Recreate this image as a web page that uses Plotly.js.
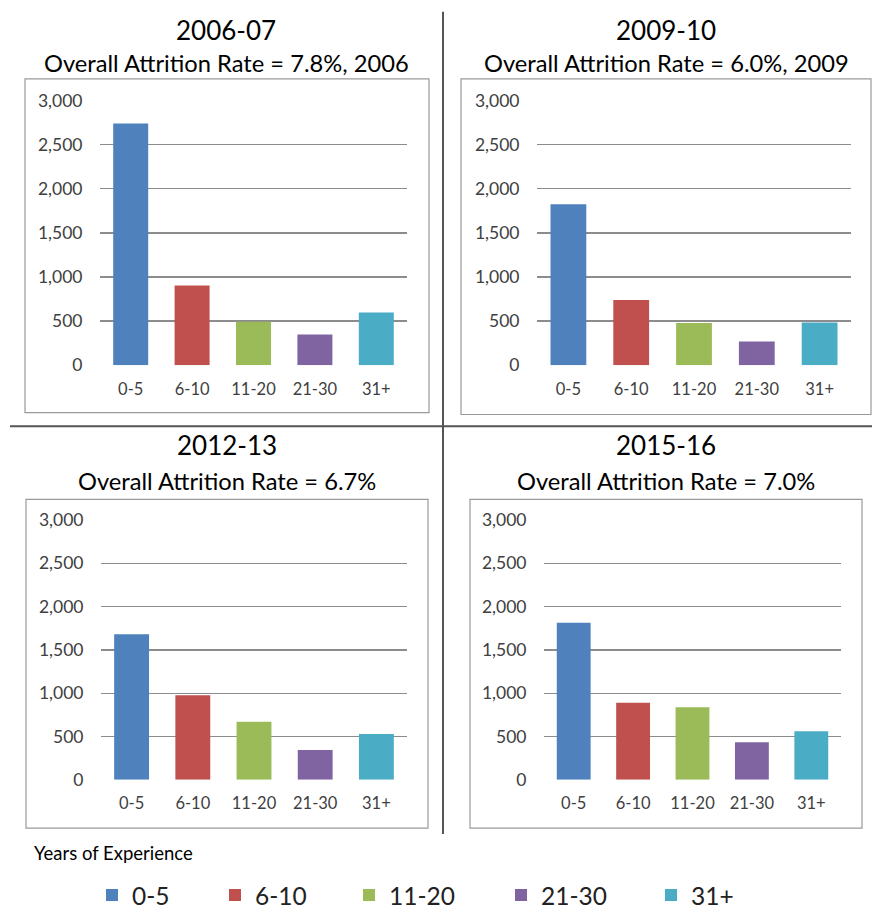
<!DOCTYPE html>
<html>
<head>
<meta charset="utf-8">
<script src="https://cdn.plot.ly/plotly-3.0.1.min.js"></script>
<style>html,body{margin:0;padding:0;background:#fff;}#chart{width:872px;height:918px;}</style>
</head>
<body>
<div id="chart"></div>
<script>
// ---- data ----
const categories = ["0-5", "6-10", "11-20", "21-30", "31+"];
const colors = ["#4F81BD", "#C0504D", "#9BBB59", "#8064A2", "#4BACC6"];
const panelYears = ["2006-07", "2009-10", "2012-13", "2015-16"];
const panelSubtitles = [
  "Overall Attrition Rate = 7.8%, 2006",
  "Overall Attrition Rate = 6.0%, 2009",
  "Overall Attrition Rate = 6.7%",
  "Overall Attrition Rate = 7.0%"
];
const values2006 = [2740, 905, 493, 347, 597];
const values2009 = [1824, 740, 478, 269, 485];
const values2012 = [1680, 977, 669, 342, 528];
const values2015 = [1814, 890, 836, 433, 559];
const yTicks = [0, 500, 1000, 1500, 2000, 2500, 3000];
const yTickLabels = ["0", "500", "1,000", "1,500", "2,000", "2,500", "3,000"];
const legendTitle = "Years of Experience";

const panels = [values2006, values2009, values2012, values2015];

// ---- layout geometry (pixels) ----
const W = 872, H = 918;
const FONT = "Lato, 'Open Sans', sans-serif";
const px = x => x / W;
const py = y => 1 - y / H;

const plotAreas = [
  {x0: 100, x1: 407, y0: 102, y1: 370},
  {x0: 537, x1: 851, y0: 102, y1: 370},
  {x0: 101, x1: 407, y0: 527, y1: 790},
  {x0: 544, x1: 841, y0: 527, y1: 790}
];
const boxes = [
  {x0: 25, x1: 429, y0: 80, y1: 418},
  {x0: 461, x1: 871, y0: 80, y1: 420},
  {x0: 26, x1: 428, y0: 506, y1: 839},
  {x0: 470, x1: 862, y0: 506, y1: 839}
];
const titlePos = [
  {x: 226, y1: 30, y2: 64},
  {x: 666, y1: 30, y2: 64},
  {x: 227, y1: 451, y2: 487},
  {x: 666, y1: 451, y2: 487}
];
// legend swatch centres (pixels) for each category
const legendSwatchX = [112, 235, 369, 521, 671];
const legendY = 907;

const legendIds = categories.map((c, i) => i === 0 ? "legend" : "legend" + (i + 1));

const traces = [];
panels.forEach((vals, p) => {
  const suffix = p === 0 ? "" : String(p + 1);
  categories.forEach((cat, i) => {
    traces.push({
      type: "bar",
      name: cat,
      x: [cat],
      y: [vals[i]],
      xaxis: "x" + suffix,
      yaxis: "y" + suffix,
      marker: {color: colors[i], line: {width: 0}},
      legendgroup: cat,
      legend: legendIds[i],
      showlegend: p === 0,
      hoverinfo: "x+y"
    });
  });
});

const layout = {
  width: W, height: H,
  margin: {l: 0, r: 0, t: 0, b: 0},
  paper_bgcolor: "#ffffff",
  plot_bgcolor: "rgba(0,0,0,0)",
  barmode: "overlay",
  bargap: 0.43,
  font: {family: FONT, color: "#404040"},
  showlegend: true,
  shapes: [],
  annotations: []
};

legendIds.forEach((id, i) => {
  layout[id] = {
    orientation: "h",
    x: px(legendSwatchX[i] - 20), xanchor: "left",
    y: py(legendY), yanchor: "middle",
    font: {family: FONT, size: 24.5, color: "#222"},
    bgcolor: "rgba(0,0,0,0)",
    borderwidth: 0,
    itemclick: false, itemdoubleclick: false
  };
});

plotAreas.forEach((a, p) => {
  const suffix = p === 0 ? "" : String(p + 1);
  layout["xaxis" + suffix] = {
    domain: [px(a.x0), px(a.x1)],
    anchor: "y" + suffix,
    type: "category",
    categoryorder: "array",
    categoryarray: categories,
    showgrid: false,
    zeroline: false,
    showline: false,
    ticks: "outside", ticklen: 9, tickcolor: "rgba(0,0,0,0)",
    tickfont: {family: FONT, size: 16.5, color: "#404040"},
    fixedrange: true
  };
  layout["yaxis" + suffix] = {
    domain: [py(a.y1), py(a.y0)],
    anchor: "x" + suffix,
    range: [0, 3000],
    tickvals: yTicks,
    ticktext: yTickLabels,
    showgrid: true,
    gridcolor: "#8c8c8c",
    gridwidth: 1.3,
    zeroline: false,
    showline: false,
    ticks: "outside", ticklen: 13, tickcolor: "rgba(0,0,0,0)",
    tickfont: {family: FONT, size: 17.5, color: "#404040"},
    fixedrange: true
  };
});

boxes.forEach(b => {
  layout.shapes.push({
    type: "rect", xref: "paper", yref: "paper",
    x0: px(b.x0), x1: px(b.x1), y0: py(b.y1), y1: py(b.y0),
    line: {color: "#9a9a9a", width: 1.2}, fillcolor: "rgba(0,0,0,0)", layer: "below"
  });
});
// dividers
layout.shapes.push({type: "line", xref: "paper", yref: "paper",
  x0: px(443), x1: px(443), y0: py(12), y1: py(845), line: {color: "#555", width: 2}});
layout.shapes.push({type: "line", xref: "paper", yref: "paper",
  x0: px(10), x1: px(872), y0: py(432), y1: py(432), line: {color: "#555", width: 2}});

titlePos.forEach((t, p) => {
  layout.annotations.push({
    xref: "paper", yref: "paper", x: px(t.x), y: py(t.y1),
    xanchor: "center", yanchor: "middle", showarrow: false,
    text: panelYears[p], font: {family: FONT, size: 26, color: "#000"}
  });
  layout.annotations.push({
    xref: "paper", yref: "paper", x: px(t.x), y: py(t.y2),
    xanchor: "center", yanchor: "middle", showarrow: false,
    text: panelSubtitles[p], font: {family: FONT, size: 23.7, color: "#000"}
  });
});
layout.annotations.push({
  xref: "paper", yref: "paper", x: px(32), y: py(864),
  xanchor: "left", yanchor: "middle", showarrow: false,
  text: legendTitle, font: {family: FONT, size: 18.5, color: "#000"}
});

Plotly.newPlot("chart", traces, layout, {displayModeBar: false, staticPlot: true});
</script>
</body>
</html>
